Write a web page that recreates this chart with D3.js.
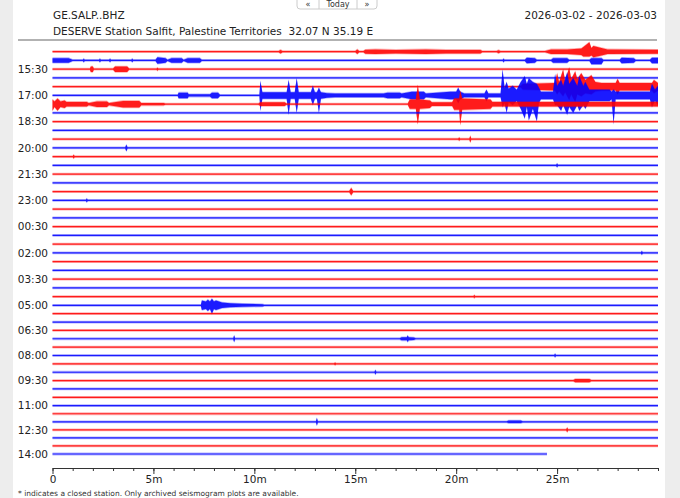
<!DOCTYPE html>
<html>
<head>
<meta charset="utf-8">
<script src="https://cdn.jsdelivr.net/npm/d3@7"></script>
<style>
  html, body { margin: 0; padding: 0; background: #ededed; }
  svg { display: block; }
  text { font-family: "DejaVu Sans", sans-serif; white-space: pre; }
</style>
</head>
<body>
<svg id="chart" width="680" height="498"></svg>
<script>
// header texts
const stationCode = 'GE.SALP..BHZ';
const stationName = 'DESERVE Station Salfit, Palestine Territories  32.07 N 35.19 E';
const dateRange = '2026-03-02 - 2026-03-03';
const footNote = '* indicates a closed station. Only archived seismogram plots are available.';
const navButtons = ['\u00ab', 'Today', '\u00bb'];

// x axis (minutes into each 30 min line)
const minuteTicks = [0, 5, 10, 15, 20, 25];
const minuteLabels = ['0', '5m', '10m', '15m', '20m', '25m'];

// y axis: one label every third line
const labelLines = [2, 5, 8, 11, 14, 17, 20, 23, 26, 29, 32, 35, 38, 41, 44, 47];
const timeLabels = ['15:30', '17:00', '18:30', '20:00', '21:30', '23:00', '00:30', '02:00',
  '03:30', '05:00', '06:30', '08:00', '09:30', '11:00', '12:30', '14:00'];

// envelope of each 30 min line: [minute, amplitude] or [minute, up, down]
const quiet = [[0, 1], [30, 1]];
const lineEnvelopes = [
  // 0  14:30
  [[0, 1], [11.2, 1], [11.3, 2], [11.4, 1], [15.0, 1], [15.1, 2.5], [15.2, 1], [15.4, 1], [15.5, 2.2],
   [16, 2.5], [17, 2], [18.5, 2.5], [19.5, 2], [21.2, 2], [21.3, 1], [22, 1], [22.1, 1.8], [22.2, 1],
   [24.4, 1], [24.7, 2.5], [25.5, 2.5], [26.2, 3.5], [26.3, 5], [26.6, 10, 5], [26.7, 4], [26.8, 6],
   [27.2, 4], [27.5, 2.5], [30, 2.2]],
  // 1  15:00
  [[0, 2.5], [0.8, 2.5], [1, 1], [1.5, 1], [1.55, 2], [1.6, 1], [2.3, 1], [2.35, 2], [2.4, 1], [2.8, 1],
   [2.85, 2], [2.9, 1], [3.9, 1], [3.95, 2], [4, 1], [5.1, 1], [5.2, 3.5], [5.6, 2.5], [5.7, 1], [5.9, 2.5],
   [6.4, 2.5], [6.5, 1], [6.7, 2.5], [7.3, 2.5], [7.4, 1], [22.3, 1], [22.35, 2], [22.4, 1], [23.4, 1],
   [23.5, 3], [23.9, 2.5], [24, 1], [24.7, 1], [24.8, 2.5], [25.5, 2.5], [25.6, 1], [26.6, 1],
   [26.7, 2.5, 4], [27.2, 2.5, 4], [27.3, 1], [28.1, 1], [28.2, 3], [28.8, 2.5], [28.9, 1], [29.6, 1],
   [29.7, 3], [30, 3]],
  // 2  15:30
  [[0, 1], [1.85, 1], [1.9, 3], [2.0, 3], [2.05, 1], [3.0, 1], [3.1, 3], [3.7, 3], [3.8, 1],
   [5.15, 1], [5.2, 1.8], [5.25, 1], [30, 1]],
  // 3  16:00
  quiet,
  // 4  16:30
  [[0, 1], [23.2, 1], [23.3, 3], [24.9, 4], [25.0, 14, 8], [25.1, 5], [25.3, 18, 10], [25.4, 6],
   [25.6, 20, 14], [25.7, 8], [25.9, 16], [26.0, 8], [26.2, 14, 10], [26.4, 7], [26.7, 12, 8],
   [26.9, 5], [27.2, 4], [27.9, 4], [28.0, 8], [28.1, 4], [29.7, 4], [29.8, 7], [30, 4]],
  // 5  17:00
  [[0, 1], [6.2, 1], [6.25, 3], [6.7, 3], [6.75, 1.5], [7.8, 1.5], [7.9, 3], [8.2, 3], [8.3, 1],
   [10.25, 1], [10.3, 15, 16], [10.4, 3.5], [11.6, 3.5], [11.7, 16, 20], [11.8, 3.5], [12.0, 3.5],
   [12.1, 18], [12.2, 3.5], [12.8, 3.5], [12.9, 10], [13.0, 3.5], [13.1, 3.5], [13.2, 8, 18],
   [13.3, 3.5], [13.6, 2.5], [14, 2], [16.4, 2], [16.6, 3], [17.2, 3], [17.3, 2], [17.8, 4], [18.4, 4],
   [18.5, 2], [19.7, 4], [20.0, 4], [20.1, 8], [20.2, 4], [20.4, 2], [21.4, 2], [21.5, 6], [21.6, 2],
   [22.2, 2], [22.3, 27, 12], [22.4, 8], [22.5, 14, 18], [22.6, 7], [22.8, 10], [23.0, 6], [23.2, 14],
   [23.4, 20, 24], [23.5, 12], [23.6, 18, 26], [23.8, 14], [24.0, 12, 27], [24.1, 8], [24.2, 4],
   [24.8, 4], [24.9, 22, 10], [25.0, 10], [25.2, 16], [25.3, 10], [25.5, 24, 20], [25.6, 12],
   [25.8, 18], [26.0, 10], [26.1, 20, 16], [26.3, 10], [26.4, 14], [26.6, 6], [27.6, 6], [27.7, 4],
   [27.8, 6, 30], [27.9, 4], [29.6, 4], [29.7, 12], [29.85, 6], [30, 10]],
  // 6  17:30
  [[0, 5, 7], [0.1, 3], [0.25, 6, 7], [0.4, 3], [0.6, 4], [0.7, 2.5], [1.7, 2.5], [1.8, 1.5], [2.2, 3],
   [2.7, 3], [2.8, 1.5], [3.5, 3.5], [4.3, 3.5], [4.4, 1.5], [5.5, 1.5], [5.6, 1], [10.2, 1], [10.3, 2],
   [11.5, 2], [11.6, 1], [17.6, 1], [17.7, 5], [18.0, 5], [18.1, 20, 21], [18.2, 5], [18.7, 4],
   [18.8, 2], [19.8, 2], [19.9, 6], [20.15, 6], [20.2, 14, 22], [20.3, 6], [21.7, 5], [21.8, 2.5],
   [27, 2.5], [30, 2.5]],
  quiet, quiet, quiet,
  // 10  19:30
  [[0, 1], [20.1, 1], [20.15, 1.8], [20.2, 1], [20.65, 1], [20.7, 3.5], [20.75, 1], [30, 1]],
  // 11  20:00
  [[0, 1], [3.6, 1], [3.66, 3.5], [3.72, 1], [30, 1]],
  // 12
  [[0, 1], [1.0, 1], [1.05, 2], [1.1, 1], [30, 1]],
  // 13
  [[0, 1], [24.95, 1], [25.0, 2], [25.05, 1], [30, 1]],
  quiet, quiet,
  // 16
  [[0, 1], [14.7, 1], [14.8, 4], [14.9, 1], [30, 1]],
  // 17  23:00
  [[0, 1], [1.65, 1], [1.7, 2], [1.75, 1], [30, 1]],
  quiet, quiet, quiet, quiet, quiet,
  // 23  02:00
  [[0, 1], [29.15, 1], [29.2, 2], [29.25, 1], [30, 1]],
  quiet, quiet, quiet, quiet,
  // 28
  [[0, 1], [20.85, 1], [20.9, 1.8], [20.95, 1], [30, 1]],
  // 29  05:00
  [[0, 1], [7.35, 1], [7.4, 5], [7.6, 4], [7.7, 6], [7.8, 4], [7.9, 7, 9], [8.0, 4], [8.1, 5],
   [8.4, 3], [8.8, 2.2], [9.4, 1.8], [10.4, 1.4], [10.5, 1], [30, 1]],
  quiet, quiet, quiet,
  // 33
  [[0, 1], [8.95, 1], [9.0, 3.5], [9.05, 1], [17.2, 1], [17.3, 1.8], [17.55, 1.8], [17.6, 3.5],
   [17.65, 1.8], [17.9, 1.5], [18, 1], [30, 1]],
  quiet,
  // 35  08:00
  [[0, 1], [24.85, 1], [24.9, 2], [24.95, 1], [30, 1]],
  // 36
  [[0, 1], [13.95, 1], [14.0, 1.6], [14.05, 1], [30, 1]],
  // 37
  [[0, 1], [15.95, 1], [16.0, 2.5], [16.05, 1], [30, 1]],
  // 38  09:30
  [[0, 1], [25.8, 1], [25.9, 1.8], [26.6, 1.8], [26.7, 1], [30, 1]],
  quiet, quiet, quiet, quiet,
  // 43
  [[0, 1], [13.05, 1], [13.1, 4], [13.15, 1], [22.5, 1], [22.6, 1.6], [23.2, 1.6], [23.3, 1], [30, 1]],
  // 44  12:30
  [[0, 1], [25.45, 1], [25.5, 2.5], [25.55, 1], [30, 1]],
  quiet, quiet,
  // 47  14:00 (incomplete)
  [[0, 1], [24.5, 1]]
];

const lineColors = ['#ff0000', '#0000ff'];

const svg = d3.select('#chart');

// white page panel
svg.append('rect')
  .attr('x', 13).attr('y', 0)
  .attr('width', 652).attr('height', 498)
  .attr('fill', '#ffffff');

// navigation buttons at the top edge
const nav = svg.append('g');
nav.append('rect')
  .attr('x', 297).attr('y', -12)
  .attr('width', 80).attr('height', 21)
  .attr('rx', 3)
  .attr('fill', '#ffffff')
  .attr('stroke', '#cccccc');
[319, 357].forEach(function(px) {
  nav.append('line')
    .attr('x1', px).attr('x2', px)
    .attr('y1', -12).attr('y2', 9)
    .attr('stroke', '#cccccc');
});
[308, 338, 367].forEach(function(px, i) {
  nav.append('text')
    .attr('x', px).attr('y', 7)
    .attr('text-anchor', 'middle')
    .attr('font-size', 8)
    .attr('fill', '#333')
    .text(navButtons[i]);
});

// header
svg.append('text')
  .attr('x', 53).attr('y', 19)
  .attr('font-size', 10.5)
  .attr('fill', '#222')
  .text(stationCode);
svg.append('text')
  .attr('x', 53).attr('y', 35)
  .attr('font-size', 10.5)
  .attr('fill', '#222')
  .attr('xml:space', 'preserve')
  .text(stationName);
svg.append('text')
  .attr('x', 657).attr('y', 19)
  .attr('text-anchor', 'end')
  .attr('font-size', 10.5)
  .attr('fill', '#222')
  .text(dateRange);
svg.append('line')
  .attr('x1', 18).attr('x2', 657)
  .attr('y1', 40).attr('y2', 40)
  .attr('stroke', '#999')
  .attr('stroke-width', 1.5);

// scales
const x = d3.scaleLinear().domain([0, 30]).range([52.5, 658]);
const y = d3.scaleLinear()
  .domain([0, 29, 41, 47])
  .range([51.7, 305.3, 405.7, 454]);
const amp = d3.scaleLinear().domain([0, 1, 2, 30]).range([0, 0.6, 1.8, 28.8]);

// traces: faint noise halo under a solid core
const traces = svg.append('g');
lineEnvelopes.forEach(function(env, i) {
  const yc = y(i);
  const up = d => amp(d[1]);
  const down = d => amp(d.length > 2 ? d[2] : d[1]);
  const halo = d3.area()
    .x(d => x(d[0]))
    .y0(d => yc - up(d) - 0.8)
    .y1(d => yc + down(d) + 0.8);
  const core = d3.area()
    .x(d => x(d[0]))
    .y0(d => yc - up(d))
    .y1(d => yc + down(d));
  traces.append('path')
    .attr('d', halo(env))
    .attr('fill', lineColors[i % 2])
    .attr('fill-opacity', 0.3);
  traces.append('path')
    .attr('d', core(env))
    .attr('fill', lineColors[i % 2])
    .attr('fill-opacity', 0.85);
});

// time labels
svg.append('g')
  .selectAll('text')
  .data(labelLines)
  .enter()
  .append('text')
  .attr('x', 48)
  .attr('y', d => y(d))
  .attr('dy', '0.35em')
  .attr('text-anchor', 'end')
  .attr('font-size', 10.5)
  .attr('fill', '#222')
  .text((d, i) => timeLabels[i]);

// x axis
const axisY = 468;
svg.append('g')
  .attr('transform', `translate(0,${axisY})`)
  .call(d3.axisBottom(x).tickValues(d3.range(0, 31)).tickSize(3).tickSizeOuter(0).tickFormat(''))
  .call(g => g.select('.domain').attr('stroke', '#333'))
  .call(g => g.selectAll('.tick line').attr('stroke', '#333'));
svg.append('g')
  .attr('transform', `translate(0,${axisY})`)
  .call(d3.axisBottom(x).tickValues(minuteTicks).tickSize(6).tickSizeOuter(0)
    .tickFormat((d, i) => minuteLabels[i]))
  .call(g => g.select('.domain').remove())
  .call(g => g.selectAll('.tick line').attr('stroke', '#333'))
  .call(g => g.selectAll('.tick text')
    .attr('font-family', '"DejaVu Sans", sans-serif')
    .attr('font-size', 10.5)
    .attr('fill', '#222')
    .attr('y', 8));

// footer
svg.append('text')
  .attr('x', 18).attr('y', 496)
  .attr('font-family', '"Liberation Sans", sans-serif')
  .attr('font-size', 7.5)
  .attr('fill', '#333')
  .text(footNote);
</script>
</body>
</html>
